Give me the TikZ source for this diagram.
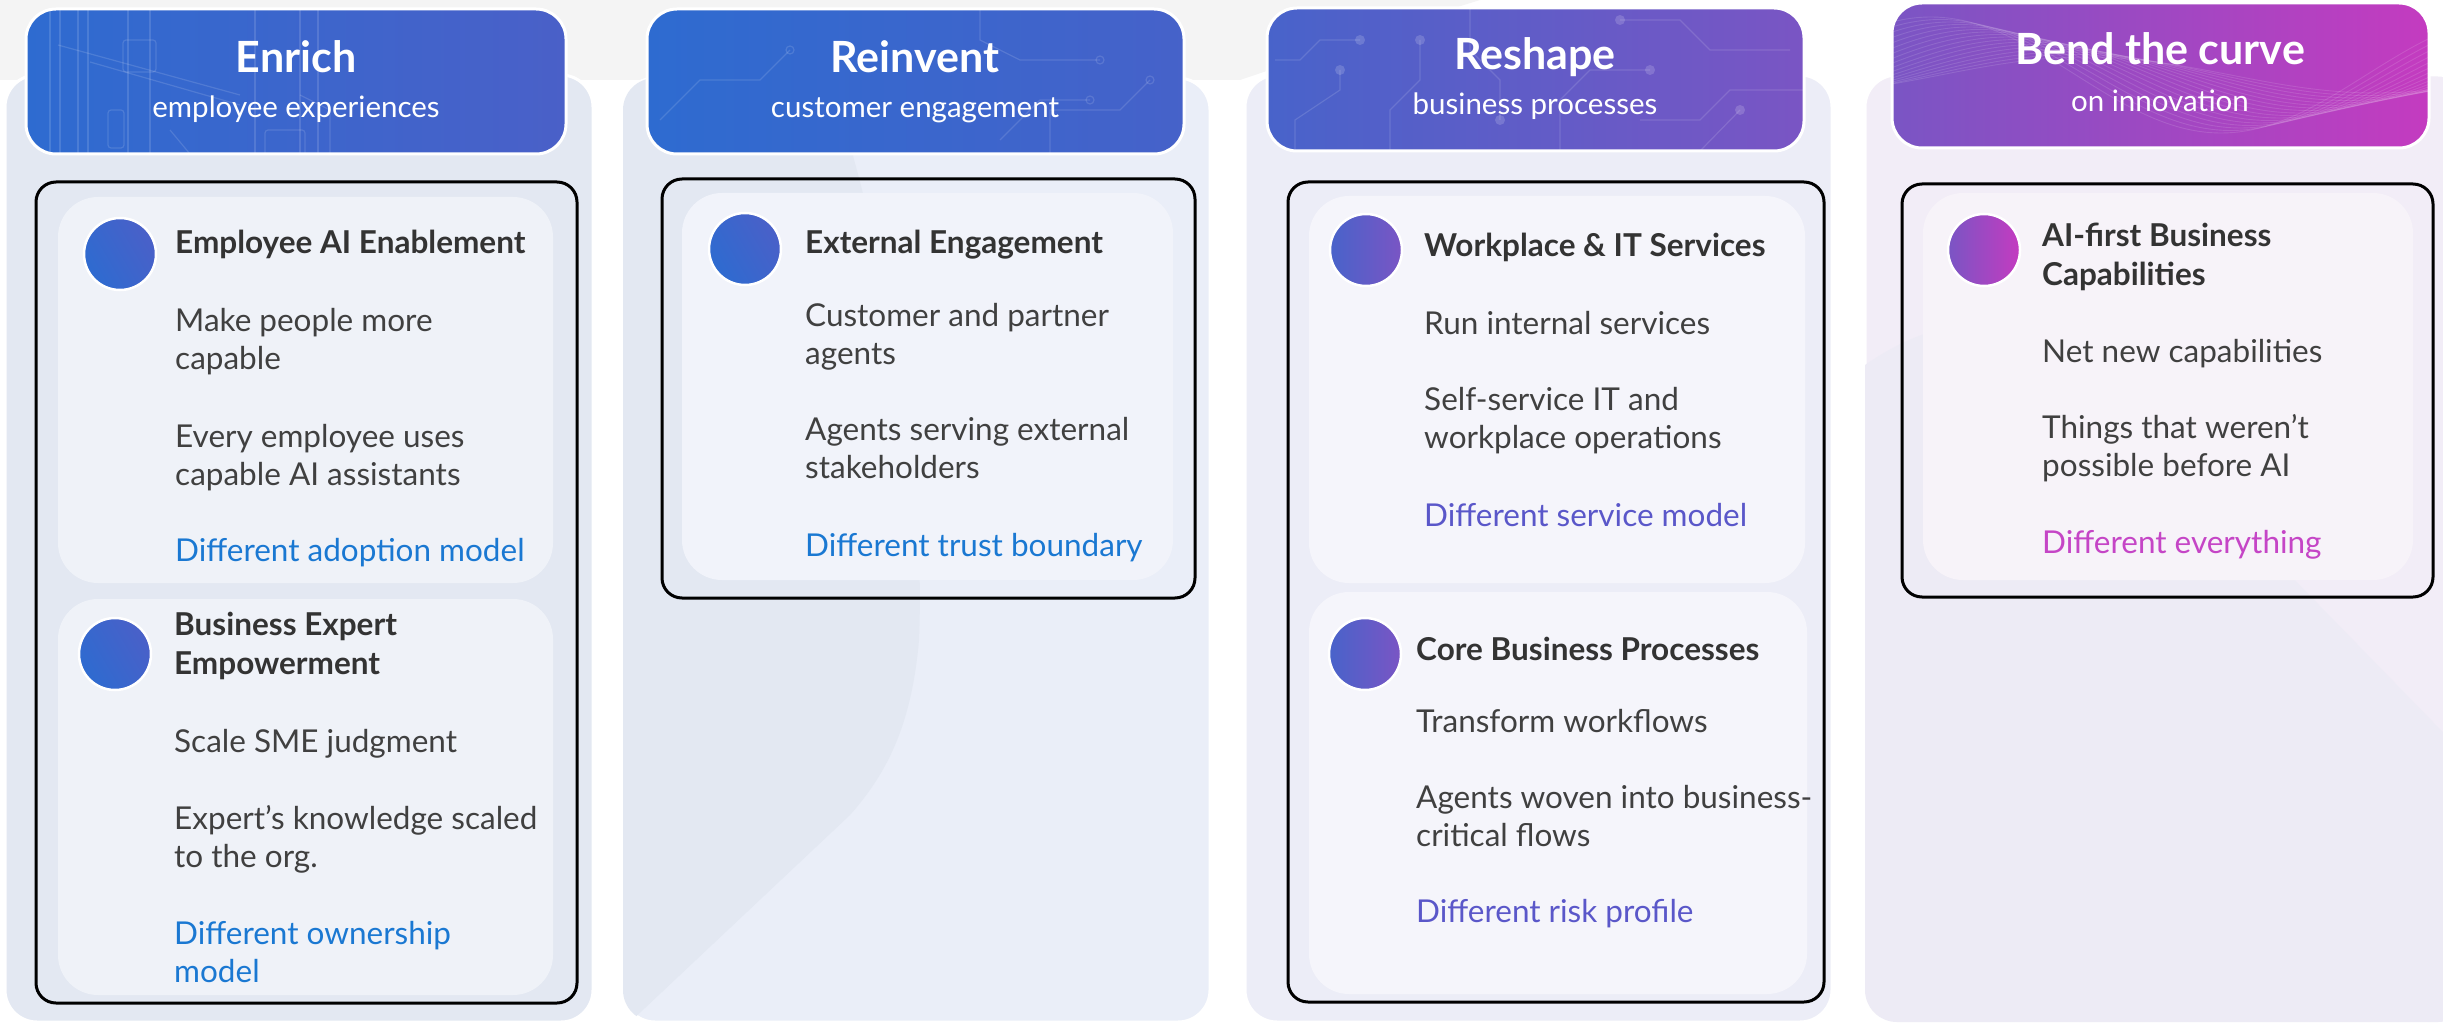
\documentclass[tikz,border=0pt]{standalone}
\usepackage{fontspec}
\setmainfont{Lato}
\usetikzlibrary{calc}

\definecolor{bggray}{HTML}{F4F4F4}
\definecolor{panelA}{HTML}{E3E8F2}
\definecolor{panelB}{HTML}{EAEEF8}
\definecolor{panelC}{HTML}{ECEDF7}
\definecolor{panelD}{HTML}{F2EDF7}
\definecolor{panelDdark}{HTML}{EDEBF5}
\definecolor{cardA}{HTML}{EFF2F8}
\definecolor{cardB}{HTML}{F1F3FA}
\definecolor{cardC}{HTML}{F5F5FB}
\definecolor{cardD}{HTML}{F7F3F9}
\definecolor{blueL}{HTML}{2E6BD0}
\definecolor{blueR}{HTML}{4A60C8}
\definecolor{indigoL}{HTML}{4863CA}
\definecolor{violet}{HTML}{7A55C4}
\definecolor{magenta}{HTML}{C43BC0}
\definecolor{ink}{HTML}{333333}
\definecolor{bodyink}{HTML}{404040}
\definecolor{accBlue}{HTML}{1A78D2}
\definecolor{accIndigo}{HTML}{5A57C9}
\definecolor{accMagenta}{HTML}{C545C6}

% multi-line text nodes are anchored at the baseline of their last line
\tikzset{
  panelbox/.style={fill=#1, draw=white, line width=3pt, rounded corners=32pt},
  hdrbox/.style 2 args={draw=white, line width=3pt, rounded corners=30pt,
    left color=#1, right color=#2},
  hdrtitle/.style={font=\fontsize{43}{48}\selectfont\bfseries, text=white,
    anchor=base, inner sep=0pt},
  hdrsub/.style={font=\fontsize{29.5}{34}\selectfont, text=white,
    anchor=base, inner sep=0pt},
  groupbox/.style={draw=black, line width=3pt, rounded corners=20pt},
  cardbox/.style={fill=#1, rounded corners=40pt},
  dot/.style 2 args={circle, minimum size=72pt, inner sep=0pt, draw=white,
    line width=2.5pt, left color=#1, right color=#2},
  ctitle/.style={font=\fontsize{31.5}{39}\selectfont\bfseries, text=ink,
    anchor=base west, inner sep=0pt, align=left},
  cbody/.style={font=\fontsize{31.5}{38}\selectfont, text=bodyink,
    anchor=base west, inner sep=0pt, align=left},
  caccent/.style={cbody, text=#1},
  texture/.style={white, opacity=0.13, line width=1.2pt},
}

\begin{document}
\begin{tikzpicture}[x=1pt, y=-1pt]
\useasboundingbox (0,0) rectangle (2443,1024);
\clip (0,0) rectangle (2443,1024);

% page background with a soft grey sweep at the top left
\fill[white] (0,0) rectangle (2443,1024);
\fill[bggray] (0,0) -- (1480,0) .. controls (1350,40) and (1300,60) .. (1240,80)
  -- (0,80) -- cycle;

% ---------- column panels ----------
\path[panelbox=panelA] (5,75) rectangle (593,1022);
\path[panelbox=panelB] (623,78) rectangle (1210,1022);
\begin{scope}
  \clip[rounded corners=32pt] (623,78) rectangle (1210,1022);
  \fill[panelA] (623,78) -- (830,78) .. controls (900,300) and (925,500) .. (919,640)
    .. controls (912,720) and (890,770) .. (850,815) -- (628,1024) -- (600,1024) -- cycle;
\end{scope}
\path[panelbox=panelC] (1245,75) rectangle (1832,1022);
\path[panelbox=panelD] (1865,75) rectangle (2470,1022);
\begin{scope}
  \clip[rounded corners=32pt] (1865,75) rectangle (2470,1022);
  \fill[panelDdark] (1865,365) .. controls (1930,320) and (2010,300) .. (2090,370)
    -- (2470,760) -- (2470,1030) -- (1865,1030) -- cycle;
\end{scope}

% ---------- column headers ----------
% Enrich
\path[hdrbox={blueL}{blueR}] (26,9) rectangle (566,154);
\begin{scope}
  \clip[rounded corners=30pt] (26,9) rectangle (566,154);
  \foreach \xx in {50,60,78,88,128,150,255,300,318} \draw[texture] (\xx,9) -- (\xx,154);
  \draw[texture] (58,45) -- (240,95);
  \draw[texture] (90,62) -- (240,105);
  \draw[texture, rounded corners=3pt] (123,40) rectangle (156,72);
  \draw[texture, rounded corners=3pt] (108,110) rectangle (124,148);
  \draw[texture] (170,130) -- (190,154);
  \draw[texture, rounded corners=3pt] (265,130) rectangle (305,160);
  \draw[texture] (300,95) -- (330,110) -- (330,160);
\end{scope}
\node[hdrtitle] (h1t) at (296,73) {Enrich};
\node[hdrsub] (h1s) at (296,118) {employee experiences};

% Reinvent
\path[hdrbox={blueL}{blueR!85!blueL}] (647,9) rectangle (1184,154);
\begin{scope}
  \clip[rounded corners=30pt] (647,9) rectangle (1184,154);
  \draw[texture] (660,120) -- (700,80) -- (760,80) -- (790,50);
  \draw[texture] (980,9) -- (980,40) -- (1020,60) -- (1100,60);
  \draw[texture] (1050,154) -- (1050,110) -- (1120,110) -- (1150,80);
  \draw[texture] (1000,140) -- (1040,100) -- (1090,100);
  \foreach \p in {(790,50),(1100,60),(1150,80),(1090,100)} \draw[texture] \p circle (4pt);
\end{scope}
\node[hdrtitle] (h2t) at (915,73) {Reinvent};
\node[hdrsub] (h2s) at (915,118) {customer engagement};

% Reshape
\path[hdrbox={indigoL}{violet}] (1267,8) rectangle (1804,151);
\begin{scope}
  \clip[rounded corners=30pt] (1267,8) rectangle (1804,151);
  \draw[texture] (1275,60) -- (1300,60) -- (1320,40) -- (1360,40);
  \draw[texture] (1295,151) -- (1295,120) -- (1340,90) -- (1340,70);
  \draw[texture] (1390,151) -- (1390,110) -- (1420,80) -- (1420,40);
  \draw[texture] (1470,9) -- (1470,50) -- (1500,80) -- (1500,120);
  \draw[texture] (1560,151) -- (1560,100) -- (1590,70) -- (1650,70);
  \draw[texture] (1620,20) -- (1680,20) -- (1710,50) -- (1790,50);
  \draw[texture] (1640,120) -- (1700,120) -- (1730,90) -- (1804,90);
  \draw[texture] (1700,151) -- (1740,110);
  \foreach \p in {(1360,40),(1340,70),(1420,40),(1500,120),(1650,70),(1620,20),(1740,110)}
    \fill[white, opacity=0.16] \p circle (5pt);
\end{scope}
\node[hdrtitle] (h3t) at (1535,70) {Reshape};
\node[hdrsub] (h3s) at (1535,115) {business processes};

% Bend the curve
\path[hdrbox={violet}{magenta}] (1892,3) rectangle (2429,148);
\begin{scope}
  \clip[rounded corners=30pt] (1892,3) rectangle (2429,148);
  \foreach \k in {0,...,16}
    \draw[white, opacity=0.12, line width=0.9pt] plot[domain=1892:2429, samples=70, smooth]
      (\x, {75 + (18+\k*2.5)*sin((\x-1892)*0.62 + 150 + \k*6)});
\end{scope}
\node[hdrtitle] (h4t) at (2160,65) {Bend the curve};
\node[hdrsub] (h4s) at (2160,112) {on innovation};

% ---------- column 1: Enrich ----------
\path[groupbox] (36,182) rectangle (577,1003);
\path[cardbox=cardA] (58,197) rectangle (553,583);
\node[dot={blueL}{blueR}, shading angle=120] (c1a-dot) at (120,254) {};
\node[ctitle] (c1a-t) at (175,254) {Employee AI Enablement};
\node[cbody] (c1a-b1) at (175,369) {Make people more\\capable};
\node[cbody] (c1a-b2) at (175,485) {Every employee uses\\capable AI assistants};
\node[caccent=accBlue] (c1a-x) at (175,561) {Different adoption model};

\path[cardbox=cardA] (58,599) rectangle (553,995);
\node[dot={blueL}{blueR}, shading angle=120] (c1b-dot) at (115,654) {};
\node[ctitle] (c1b-t) at (174,674) {Business Expert\\Empowerment};
\node[cbody] (c1b-b1) at (174,752) {Scale SME judgment};
\node[cbody] (c1b-b2) at (174,867) {Expert’s knowledge scaled\\to the org.};
\node[caccent=accBlue] (c1b-x) at (174,982) {Different ownership\\model};

% ---------- column 2: Reinvent ----------
\path[groupbox] (662,179) rectangle (1195,598);
\path[cardbox=cardB] (682,193) rectangle (1173,580);
\node[dot={blueL}{blueR}, shading angle=120] (c2a-dot) at (745,249) {};
\node[ctitle] (c2a-t) at (805,254) {External Engagement};
\node[cbody] (c2a-b1) at (805,364) {Customer and partner\\agents};
\node[cbody] (c2a-b2) at (805,478) {Agents serving external\\stakeholders};
\node[caccent=accBlue] (c2a-x) at (805,556) {Different trust boundary};

% ---------- column 3: Reshape ----------
\path[groupbox] (1288,182) rectangle (1824,1002);
\path[cardbox=cardC] (1309,196) rectangle (1805,583);
\node[dot={indigoL}{violet}] (c3a-dot) at (1366,250) {};
\node[ctitle] (c3a-t) at (1424,257) {Workplace \& IT Services};
\node[cbody] (c3a-b1) at (1424,334) {Run internal services};
\node[cbody] (c3a-b2) at (1424,448) {Self-service IT and\\workplace operations};
\node[caccent=accIndigo] (c3a-x) at (1424,526) {Different service model};

\path[cardbox=cardC] (1309,592) rectangle (1807,994);
\node[dot={indigoL}{violet}] (c3b-dot) at (1365,654) {};
\node[ctitle] (c3b-t) at (1416,660) {Core Business Processes};
\node[cbody] (c3b-b1) at (1416,732) {Transform workflows};
\node[cbody] (c3b-b2) at (1416,846) {Agents woven into business-\\critical flows};
\node[caccent=accIndigo] (c3b-x) at (1416,922) {Different risk profile};

% ---------- column 4: Bend the curve ----------
\path[groupbox] (1902,184) rectangle (2433,597);
\path[cardbox=cardD] (1923,193) rectangle (2413,580);
\node[dot={violet}{magenta}] (c4a-dot) at (1984,250) {};
\node[ctitle] (c4a-t) at (2042,285) {AI-first Business\\Capabilities};
\node[cbody] (c4a-b1) at (2042,362) {Net new capabilities};
\node[cbody] (c4a-b2) at (2042,476) {Things that weren’t\\possible before AI};
\node[caccent=accMagenta] (c4a-x) at (2042,553) {Different everything};
\end{tikzpicture}
\end{document}
